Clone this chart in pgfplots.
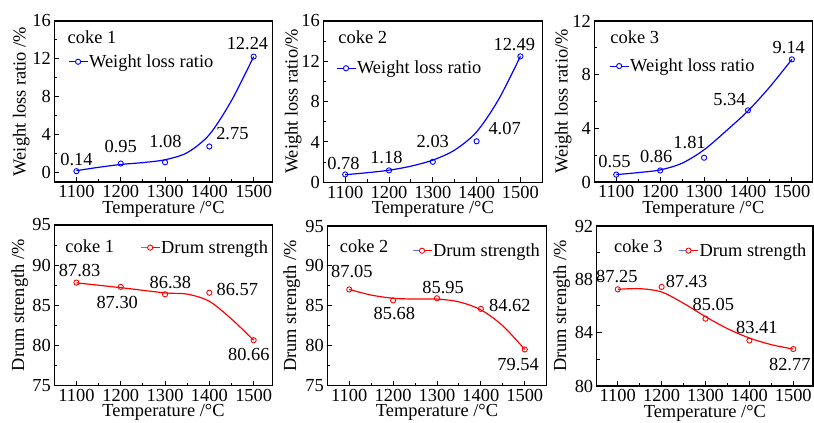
\documentclass[border=0pt]{standalone}
\usepackage{fontspec}
\setmainfont{Liberation Serif}
\usepackage{pgfplots}
\pgfplotsset{compat=1.18}
\newcommand\fs{\fontsize{18.4}{20}\selectfont}
\definecolor{lblue}{RGB}{110,110,240}
\tikzset{lab/.style={font=\fs, inner sep=0pt, anchor=center}}
\pgfplotsset{
  myax/.style={
    scale only axis, anchor=south west,
    tick pos=left, tick align=inside,
    axis line style={line width=1.1pt},
    every tick/.style={black, line width=1pt},
    major tick length=5pt, minor tick length=3pt,
    minor x tick num=1, minor y tick num=1,
    xtick={1100,1200,1300,1400,1500},
    tick label style={font=\fs},
    /pgf/number format/assume math mode=true,
    /pgf/number format/1000 sep={},
    label style={font=\fs},
    xlabel={Temperature /°C},
    xlabel style={at={(axis description cs:0.5,0)}, anchor=center, yshift=-27pt, inner sep=0pt},
    legend style={draw=none, fill=none, inner sep=0pt, font=\fs, anchor=west, nodes={inner sep=1pt}},
    legend cell align=left,
  },
  topleg/.style={legend image code/.code={
      \draw[blue, line width=1.1pt] (0pt,0pt) -- (19pt,0pt);
      \draw[blue, line width=0.9pt, fill=white] (9.5pt,0pt) circle (2.6pt);}},
  botleg/.style={legend image code/.code={
      \draw[lblue, line width=1.1pt] (0pt,0pt) -- (9.5pt,0pt);
      \draw[red, line width=1.1pt] (9.5pt,0pt) -- (19pt,0pt);
      \draw[red, line width=0.9pt, fill=white] (9.5pt,0pt) circle (2.6pt);}},
  bcurve/.style={blue, line width=1.2pt, smooth, no markers, forget plot},
  rcurve/.style={red, line width=1.2pt, smooth, no markers, forget plot},
  bmarks/.style={blue, only marks, mark=o, mark size=2.6pt, mark options={line width=0.9pt}},
  rmarks/.style={red, only marks, mark=o, mark size=2.6pt, mark options={line width=0.9pt}},
}
\begin{document}
\begin{tikzpicture}
\useasboundingbox (0pt,0pt) rectangle (814pt,423pt);
% ---------------- plot 1
\begin{axis}[myax, topleg, at={(54.3pt,241pt)}, width=218.4pt, height=161pt,
  xmin=1050, xmax=1543, ymin=-1, ymax=16, ytick={0,4,8,12,16},
  ylabel={Weight loss ratio /\%}, ylabel style={at={(axis description cs:-0.151,0.5)}, anchor=center},
  legend style={at={(rel axis cs:0.062,0.747)}}]
\addplot[bcurve] coordinates {(1100,0.2) (1150,0.55) (1200,0.85) (1250,1.05) (1300,1.35) (1350,2.1) (1400,4.0) (1450,7.6) (1500,12.24)};
\addplot[bmarks] coordinates {(1100,0.14) (1200,0.95) (1300,1.08) (1400,2.75) (1500,12.24)};
\addlegendentry{Weight loss ratio}
\node[lab] at (axis cs:1100,1.37) {0.14};
\node[lab] at (axis cs:1200,2.7) {0.95};
\node[lab] at (axis cs:1301,3.24) {1.08};
\node[lab] at (axis cs:1452,4.12) {2.75};
\node[lab] at (axis cs:1486,13.6) {12.24};
\node[lab] at (axis cs:1135,14.3) {coke 1};
\end{axis}
% ---------------- plot 2
\begin{axis}[myax, topleg, at={(323.3pt,240.7pt)}, width=219pt, height=161.3pt,
  xmin=1050, xmax=1550, ymin=0, ymax=16, ytick={0,4,8,12,16},
  ylabel={Weight loss ratio/\%}, ylabel style={at={(axis description cs:-0.137,0.5)}, anchor=center},
  legend style={at={(rel axis cs:0.057,0.707)}}]
\addplot[bcurve] coordinates {(1100,0.75) (1150,0.95) (1200,1.2) (1250,1.6) (1300,2.2) (1350,3.2) (1400,5.0) (1450,8.2) (1500,12.49)};
\addplot[bmarks] coordinates {(1100,0.78) (1200,1.18) (1300,2.03) (1400,4.07) (1500,12.49)};
\addlegendentry{Weight loss ratio}
\node[lab] at (axis cs:1096,1.84) {0.78};
\node[lab] at (axis cs:1194,2.5) {1.18};
\node[lab] at (axis cs:1300,4.0) {2.03};
\node[lab] at (axis cs:1464,5.35) {4.07};
\node[lab] at (axis cs:1486,13.7) {12.49};
\node[lab] at (axis cs:1140,14.4) {coke 2};
\end{axis}
% ---------------- plot 3
\begin{axis}[myax, topleg, at={(594.3pt,241pt)}, width=218.2pt, height=161pt,
  xmin=1050, xmax=1547, ymin=0, ymax=12, ytick={0,4,8,12},
  ylabel={Weight loss ratio/\%}, ylabel style={at={(axis description cs:-0.142,0.5)}, anchor=center},
  legend style={at={(rel axis cs:0.067,0.72)}}]
\addplot[bcurve] coordinates {(1100,0.55) (1150,0.7) (1200,0.9) (1250,1.4) (1300,2.4) (1350,3.8) (1400,5.3) (1450,7.1) (1500,9.14)};
\addplot[bmarks] coordinates {(1100,0.55) (1200,0.86) (1300,1.81) (1400,5.34) (1500,9.14)};
\addlegendentry{Weight loss ratio}
\node[lab] at (axis cs:1096,1.55) {0.55};
\node[lab] at (axis cs:1191,1.93) {0.86};
\node[lab] at (axis cs:1267,2.93) {1.81};
\node[lab] at (axis cs:1358,6.18) {5.34};
\node[lab] at (axis cs:1493,10.05) {9.14};
\node[lab] at (axis cs:1142,10.8) {coke 3};
\end{axis}
% ---------------- plot 4
\begin{axis}[myax, botleg, at={(54.3pt,37.3pt)}, width=218.4pt, height=160.7pt,
  xmin=1050, xmax=1543, ymin=75, ymax=95, ytick={75,80,85,90,95},
  ylabel={Drum strength /\%}, ylabel style={at={(axis description cs:-0.158,0.5)}, anchor=center},
  legend style={at={(rel axis cs:0.392,0.859)}}]
\addplot[rcurve] coordinates {(1100,87.8) (1200,87.2) (1300,86.55) (1350,86.4) (1400,85.5) (1450,83.3) (1500,80.66)};
\addplot[rmarks] coordinates {(1100,87.83) (1200,87.30) (1300,86.38) (1400,86.57) (1500,80.66)};
\addlegendentry{Drum strength}
\node[lab] at (axis cs:1107,89.3) {87.83};
\node[lab] at (axis cs:1192,85.3) {87.30};
\node[lab] at (axis cs:1312,87.8) {86.38};
\node[lab] at (axis cs:1463,87.0) {86.57};
\node[lab] at (axis cs:1489,78.9) {80.66};
\node[lab] at (axis cs:1130,92.3) {coke 1};
\end{axis}
% ---------------- plot 5
\begin{axis}[myax, botleg, at={(327.3pt,37.3pt)}, width=219.4pt, height=159.7pt,
  xmin=1050, xmax=1550, ymin=75, ymax=95, ytick={75,80,85,90,95},
  ylabel={Drum strength /\%}, ylabel style={at={(axis description cs:-0.162,0.5)}, anchor=center},
  legend style={at={(rel axis cs:0.385,0.845)}}]
\addplot[rcurve] coordinates {(1100,87.05) (1150,86.35) (1200,85.95) (1250,85.85) (1300,85.85) (1350,85.5) (1400,84.5) (1450,82.5) (1500,79.54)};
\addplot[rmarks] coordinates {(1100,87.05) (1200,85.68) (1300,85.95) (1400,84.62) (1500,79.54)};
\addlegendentry{Drum strength}
\node[lab] at (axis cs:1106,89.3) {87.05};
\node[lab] at (axis cs:1203,84.06) {85.68};
\node[lab] at (axis cs:1314,87.3) {85.95};
\node[lab] at (axis cs:1466,85.1) {84.62};
\node[lab] at (axis cs:1485,77.6) {79.54};
\node[lab] at (axis cs:1134,92.5) {coke 2};
\end{axis}
% ---------------- plot 6
\begin{axis}[myax, botleg, at={(596.7pt,37pt)}, width=216.3pt, height=160pt,
  xmin=1052, xmax=1545, ymin=80, ymax=92, ytick={80,84,88,92},
  ylabel={Drum strength /\%}, ylabel style={at={(axis description cs:-0.162,0.5)}, anchor=center},
  legend style={at={(rel axis cs:0.377,0.846)}}]
\addplot[rcurve] coordinates {(1100,87.25) (1150,87.3) (1200,87.05) (1250,86.2) (1300,85.2) (1350,84.3) (1400,83.6) (1450,83.1) (1500,82.77)};
\addplot[rmarks] coordinates {(1100,87.25) (1200,87.43) (1300,85.05) (1400,83.41) (1500,82.77)};
\addlegendentry{Drum strength}
\node[lab] at (axis cs:1098,88.2) {87.25};
\node[lab] at (axis cs:1257,87.85) {87.43};
\node[lab] at (axis cs:1318,86.1) {85.05};
\node[lab] at (axis cs:1417,84.4) {83.41};
\node[lab] at (axis cs:1492,81.6) {82.77};
\node[lab] at (axis cs:1147,90.46) {coke 3};
\end{axis}
\end{tikzpicture}
\end{document}
